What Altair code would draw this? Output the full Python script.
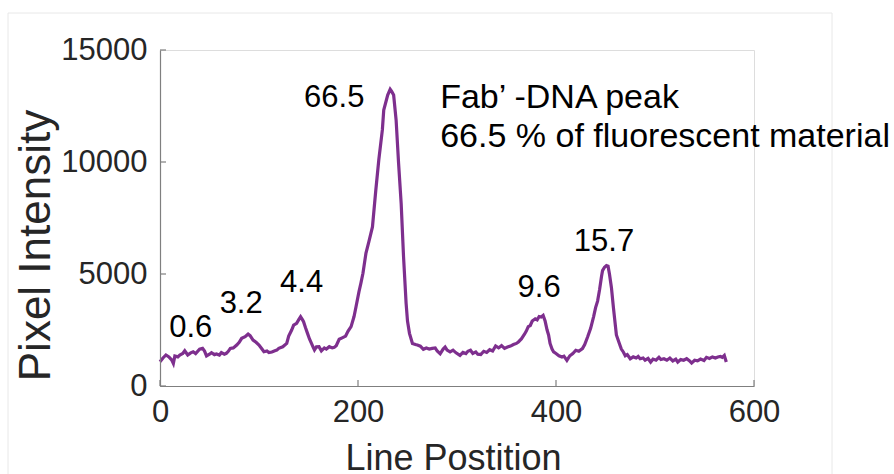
import altair as alt
import pandas as pd

# Intensity profile along the line
line_pos = [0, 3, 6, 9, 12, 13.5, 15, 18, 20, 23, 25, 28, 31, 33.5, 36, 40, 43, 45, 47, 50,
            52, 55, 57, 60, 62, 65, 67, 69, 71, 74, 77.5, 80, 82.5, 86, 89, 91, 94, 97, 100, 103,
            105, 108, 110, 113, 116, 118, 120, 124, 128, 130, 133, 135, 138, 140, 142, 144, 145, 147, 149, 151,
            153, 155, 156, 158, 160.6, 163, 166, 168, 171, 174, 176, 178, 181, 184, 187.5, 190, 193, 196, 198, 201,
            203, 205, 208, 211, 214.6, 218, 221, 224.6, 226, 230, 232.5, 234, 236, 238.5, 241, 243.6, 246, 248.6, 250, 252,
            255, 258, 260, 263, 266, 269, 272, 275, 278, 280, 283, 286, 288, 290, 293, 296, 299, 303, 306, 309,
            311, 313.6, 316, 319, 321, 324, 327, 330, 333, 336, 339, 342, 345, 348, 351, 354, 357, 360, 362, 365,
            368, 370, 372, 374, 376, 379, 381, 383, 385, 387, 389, 391, 392.5, 394, 396, 397.6, 400, 403, 406, 408,
            411, 414, 417, 420, 423, 426.7, 429, 432, 435, 438, 440, 442, 444, 446, 447, 449, 451, 452.6, 454, 456,
            458, 461, 464, 466, 468, 470, 472, 475, 478, 481, 483, 485, 488, 490, 493, 495.6, 498, 501, 504, 506,
            509, 512, 515, 518, 521, 523, 526, 529, 532, 535, 537, 540, 543, 546, 549.5, 552, 555, 558, 561, 563.5,
            566, 568, 570, 572]
intensity = [1085, 1250, 1385, 1300, 1150, 1010, 1340, 1300, 1385, 1450, 1575, 1385, 1480, 1530, 1450, 1640, 1680, 1560, 1340, 1420,
             1490, 1400, 1430, 1380, 1490, 1420, 1460, 1550, 1680, 1700, 1830, 1950, 2130, 2200, 2320, 2250, 2050, 1950, 1830, 1650,
             1530, 1560, 1490, 1520, 1575, 1600, 1680, 1750, 1900, 2230, 2500, 2720, 2800, 2950, 3090, 2950, 2870, 2600, 2350, 2100,
             1900, 1700, 1610, 1750, 1755, 1570, 1700, 1650, 1755, 1700, 1725, 1800, 2085, 2150, 2230, 2450, 2650, 3100, 3540, 4210,
             4600, 5030, 5920, 6450, 7100, 8750, 10090, 11430, 12320, 12990, 13245, 13150, 12990, 11875, 9940, 8155, 5770, 3690, 2900, 2350,
             1900, 1850, 1830, 1780, 1640, 1700, 1650, 1680, 1700, 1560, 1440, 1650, 1740, 1600, 1520, 1600, 1480, 1365, 1500, 1450,
             1550, 1595, 1450, 1520, 1420, 1400, 1550, 1500, 1620, 1560, 1785, 1700, 1800, 1680, 1740, 1780, 1850, 1900, 1965, 2100,
             2300, 2450, 2650, 2700, 2900, 3000, 2950, 3100, 3080, 3150, 2900, 2500, 2280, 1900, 1650, 1520, 1450, 1350, 1295, 1330,
             1140, 1350, 1450, 1595, 1550, 1670, 1850, 2200, 2575, 3100, 3500, 3790, 4300, 4900, 5150, 5300, 5375, 5350, 5000, 4390,
             3500, 2280, 1900, 1650, 1520, 1350, 1400, 1215, 1300, 1250, 1320, 1215, 1250, 1150, 1230, 1070, 1200, 1150, 1280, 1180,
             1215, 1150, 1250, 1120, 1200, 1070, 1180, 1150, 1220, 1120, 1025, 1150, 1120, 1200, 1140, 1280, 1230, 1300, 1250, 1295,
             1320, 1280, 1365, 1070]

# Percentage labels above each peak
peak_labels = ["0.6", "3.2", "4.4", "66.5", "9.6", "15.7"]
peak_label_x = [31, 82, 143, 176, 383, 448.5]
peak_label_y = [2590, 3660, 4620, 12835, 4375, 6430]

# Note beside the main peak
note_lines = ["Fab’  -DNA peak", "66.5 % of fluorescent material"]
note_x = [283, 283]
note_y = [12857, 11116]

x_ticks = [0, 200, 400, 600]
y_ticks = [0, 5000, 10000, 15000]

FONT = "Liberation Sans"
PURPLE = "#7E2F8E"
AXIS_GRAY = "#7f7f7f"
W, H = 594, 336

profile = pd.DataFrame({"pos": line_pos, "val": intensity})
peaks = pd.DataFrame({"label": peak_labels, "x": peak_label_x, "y": peak_label_y})
notes = pd.DataFrame({"text": note_lines, "x": note_x, "y": note_y})
xt = pd.DataFrame({"x": x_ticks})
yt = pd.DataFrame({"y": y_ticks})

x_scale = alt.Scale(domain=[0, 600], nice=False)
y_scale = alt.Scale(domain=[0, 15000], nice=False)

x_axis = alt.Axis(values=x_ticks, format="d", grid=False, tickSize=0, labelPadding=11,
                  labelFlush=False, labelFontSize=31, labelFont=FONT, labelColor="#262626",
                  domainColor=AXIS_GRAY, domainWidth=1.2, zindex=1,
                  title="Line Postition", titleFont=FONT, titleFontSize=36,
                  titleFontWeight="normal", titleColor="#262626",
                  titleX=293, titleY=72, titleBaseline="middle", titleAlign="center")
y_axis = alt.Axis(values=y_ticks, format="d", grid=False, tickSize=0, labelPadding=13,
                  labelFlush=False, labelFontSize=31, labelFont=FONT, labelColor="#262626",
                  domainColor=AXIS_GRAY, domainWidth=1.2, zindex=1,
                  title="Pixel Intensity", titleFont=FONT, titleFontSize=44,
                  titleFontWeight="normal", titleColor="#262626",
                  titleX=-124, titleY=195, titleAngle=-90,
                  titleBaseline="middle", titleAlign="center")

# faint frame around the figure
frame = alt.Chart(pd.DataFrame({"a": [0]})).mark_rect(
    fillOpacity=0, stroke="#e8e8e8", strokeWidth=1
).encode(x=alt.value(-152), x2=alt.value(672), y=alt.value(-37), y2=alt.value(H + 120))

line = alt.Chart(profile).mark_line(color=PURPLE, strokeWidth=3.2, clip=False).encode(
    x=alt.X("pos:Q", scale=x_scale, axis=x_axis),
    y=alt.Y("val:Q", scale=y_scale, axis=y_axis),
)

# inward tick marks
tick_x = alt.Chart(xt).mark_rule(color=AXIS_GRAY, strokeWidth=1.2).encode(
    x=alt.X("x:Q", scale=x_scale), y=alt.value(H), y2=alt.value(H - 6)
)
tick_y = alt.Chart(yt).mark_rule(color=AXIS_GRAY, strokeWidth=1.2).encode(
    y=alt.Y("y:Q", scale=y_scale), x=alt.value(0), x2=alt.value(6)
)

peak_text = alt.Chart(peaks).mark_text(
    font=FONT, fontSize=31, color="black", align="center", baseline="middle"
).encode(x=alt.X("x:Q", scale=x_scale), y=alt.Y("y:Q", scale=y_scale), text="label:N")

note_text = alt.Chart(notes).mark_text(
    font=FONT, fontSize=34, color="black", align="left", baseline="middle"
).encode(x=alt.X("x:Q", scale=x_scale), y=alt.Y("y:Q", scale=y_scale), text="text:N")

chart = alt.layer(frame, line, tick_x, tick_y, peak_text, note_text).properties(
    width=W, height=H,
    autosize=alt.AutoSizeParams(type="none"),
    padding={"left": 160, "top": 50, "right": 140, "bottom": 88},
).configure_view(stroke=None).configure(background="white")

chart.save("out.html", embed_options={"renderer": "svg", "actions": False})
